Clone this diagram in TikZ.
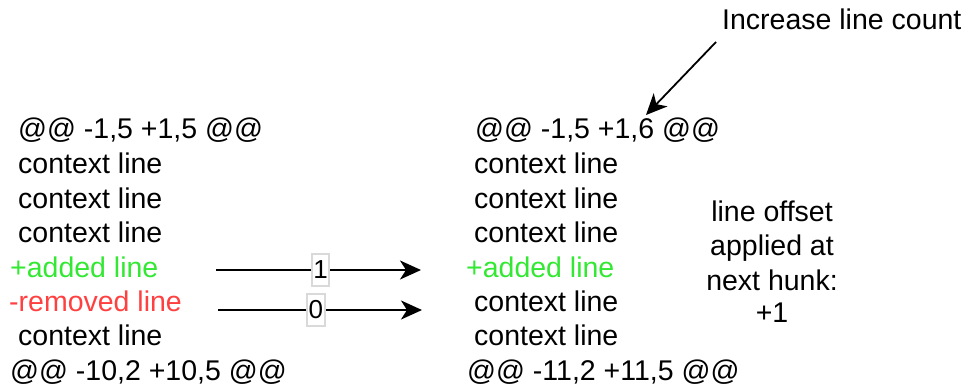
\documentclass[tikz,border=0pt]{standalone}
\usepackage{fontspec}
\setmainfont{Liberation Sans}
\usetikzlibrary{arrows.meta}

\definecolor{addgreen}{RGB}{51,232,51}
\definecolor{remred}{RGB}{255,64,64}

\begin{document}
\begin{tikzpicture}[x=1pt,y=-1pt,
    txt/.style={anchor=base west,inner sep=0pt,font=\fontsize{28.5}{34}\selectfont},
    lbl/.style={fill=white,draw=black!15,inner xsep=1.5pt,inner ysep=0pt,minimum height=32pt,
                font=\fontsize{26}{30}\selectfont},
    arr/.style={line width=1.8pt,-{Stealth[length=21pt,width=19pt,inset=6pt]}}]

\useasboundingbox (0,0) rectangle (965,390);

% Hunk before
\node[txt] (a0) at (18,139) {@@ -1,5 +1,5 @@};
\node[txt] (a1) at (18,173) {context line};
\node[txt] (a2) at (18,208) {context line};
\node[txt] (a3) at (18,242) {context line};
\node[txt,text=addgreen] (a4) at (10,277) {+added line};
\node[txt,text=remred] (a5) at (9,311) {-removed line};
\node[txt] (a6) at (18,345) {context line};
\node[txt] (a7) at (10,380) {@@ -10,2 +10,5 @@};

% Hunk after
\node[txt] (b0) at (475,139) {@@ -1,5 +1,6 @@};
\node[txt] (b1) at (474,173) {context line};
\node[txt] (b2) at (474,208) {context line};
\node[txt] (b3) at (474,242) {context line};
\node[txt,text=addgreen] (b4) at (466,277) {+added line};
\node[txt] (b5) at (474,311) {context line};
\node[txt] (b6) at (474,345) {context line};
\node[txt] (b7) at (467,380) {@@ -11,2 +11,5 @@};

% offset note
\node[txt,anchor=base] (off0) at (772,221) {line offset};
\node[txt,anchor=base] (off1) at (772,255) {applied at};
\node[txt,anchor=base] (off2) at (772,290) {next hunk:};
\node[txt,anchor=base] (off3) at (772,322) {+1};

% callout
\node[txt] (inc) at (722,30) {Increase line count};
\coordinate (incs) at (716,42);
\coordinate (inct) at (646,115);
\draw[arr] (incs) -- (inct);

% line moves
\coordinate (m1s) at (216,270);
\coordinate (m1t) at (421,270);
\coordinate (m2s) at (218,310);
\coordinate (m2t) at (422,310);
\draw[arr] (m1s) -- node[lbl,pos=.51] (n1) {1} (m1t);
\draw[arr] (m2s) -- node[lbl,pos=.48] (n0) {0} (m2t);

\end{tikzpicture}
\end{document}
